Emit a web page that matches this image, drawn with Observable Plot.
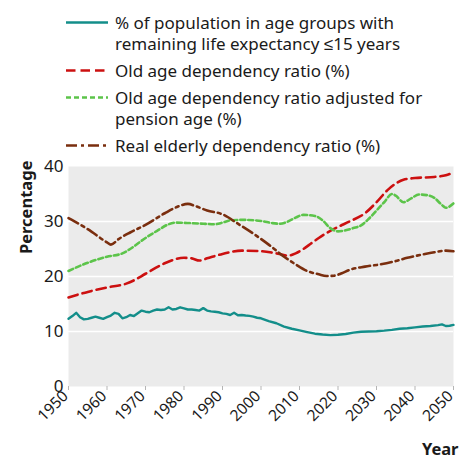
<!DOCTYPE html>
<html>
<head>
<meta charset="utf-8">
<script src="https://cdn.jsdelivr.net/npm/d3@7"></script>
<script src="https://cdn.jsdelivr.net/npm/@observablehq/plot@0.6"></script>
<style>
  html, body { margin: 0; padding: 0; background: #fff; }
  body { width: 459px; height: 458px; overflow: hidden; font-family: "Noto Sans", sans-serif; color: #1a1a1a; }
  #legend { height: 155px; box-sizing: border-box; padding-top: 12px; }
  .item { display: flex; align-items: flex-start; margin-bottom: 6px; }
  .item svg { margin-left: 66px; flex: none; }
  .item .lab { margin-left: 7px; font-size: 17px; line-height: 21px; white-space: nowrap; }
</style>
</head>
<body>
<div id="legend"></div>
<div id="chart"></div>
<script>
// ---- data ----
const seriesNames = [
  "% of population in age groups with<br>remaining life expectancy \u226415 years",
  "Old age dependency ratio (%)",
  "Old age dependency ratio adjusted for<br>pension age (%)",
  "Real elderly dependency ratio (%)"
];
const seriesColors = ["#138e8a", "#cc1010", "#5cc44a", "#7a2e0e"];
const seriesDash = [null, "9.5,5", "5,3", "11,4,3,4"];

const lifeYears = [1950,1951,1952,1953,1954,1955,1956,1957,1958,1959,1960,1961,1962,1963,1964,1965,1966,1967,1968,1969,1970,1971,1972,1973,1974,1975,1976,1977,1978,1979,1980,1981,1982,1983,1984,1985,1986,1987,1988,1989,1990,1991,1992,1993,1994,1995,1996,1997,1998,1999,2000,2002,2004,2006,2008,2010,2012,2014,2016,2018,2020,2022,2024,2026,2028,2030,2032,2034,2036,2038,2040,2042,2044,2046,2047,2048,2049,2050];
const lifeValues = [12.3,12.8,13.4,12.6,12.2,12.3,12.5,12.7,12.5,12.3,12.6,12.9,13.4,13.2,12.4,12.6,13.0,12.8,13.3,13.8,13.6,13.5,13.8,14.0,13.9,14.0,14.4,14.0,14.1,14.4,14.2,14.0,14.0,13.9,13.8,14.25,13.8,13.65,13.6,13.5,13.3,13.2,13.0,13.4,12.95,13.0,12.9,12.85,12.7,12.5,12.4,11.9,11.5,10.9,10.5,10.2,9.9,9.6,9.45,9.35,9.4,9.55,9.8,9.95,10.0,10.05,10.15,10.3,10.5,10.6,10.75,10.9,11.0,11.15,11.3,11.0,11.05,11.2];

const oadrYears = [1950,1955,1960,1965,1967,1970,1975,1980,1982,1984,1986,1990,1995,2000,2004,2007,2009,2011,2013,2015,2017,2020,2023,2027,2030,2033,2035,2037,2040,2045,2048,2050];
const oadrValues = [16.2,17.2,18.0,18.7,19.3,20.5,22.4,23.4,23.3,22.9,23.3,24.1,24.7,24.6,24.2,23.8,24.2,25.0,26.0,27.0,27.9,29.0,30.0,31.5,33.5,35.8,36.9,37.6,37.9,38.1,38.4,38.9];

const adjYears = [1950,1955,1960,1964,1966,1970,1973,1976,1978,1982,1985,1988,1990,1992,1995,2000,2003,2005,2007,2009,2011,2014,2016,2018,2020,2022,2024,2026,2028,2030,2032,2034,2035,2037,2039,2041,2043,2045,2047,2048,2050];
const adjValues = [21.0,22.5,23.6,24.2,25.0,27.0,28.3,29.5,29.8,29.7,29.6,29.5,29.8,30.2,30.3,30.1,29.7,29.6,30.0,30.7,31.2,31.0,30.2,28.8,28.2,28.4,28.8,29.3,30.5,32.0,33.5,35.0,34.7,33.5,34.2,34.9,34.8,34.3,33.0,32.5,33.3];

const realYears = [1950,1955,1960,1961,1963,1966,1970,1975,1978,1981,1983,1986,1990,1994,1998,2002,2006,2009,2012,2015,2017,2019,2021,2023,2027,2031,2035,2038,2042,2045,2048,2050];
const realValues = [30.6,28.6,26.2,25.8,26.8,28.0,29.4,31.5,32.6,33.2,32.8,32.0,31.3,29.6,27.8,25.8,23.6,22.2,21.0,20.4,20.1,20.15,20.6,21.2,21.8,22.2,22.8,23.4,24.0,24.4,24.7,24.6];

const xTicks = [1950,1960,1970,1980,1990,2000,2010,2020,2030,2040,2050];
const yTicks = [0,10,20,30,40];

// ---- legend ----
const legend = document.getElementById("legend");
seriesNames.forEach((name, i) => {
  const item = document.createElement("div");
  item.className = "item";
  const dash = seriesDash[i] ? ` stroke-dasharray="${seriesDash[i]}"` : "";
  item.innerHTML = `<svg width="42" height="21"><line x1="0" x2="42" y1="10.5" y2="10.5" stroke="${seriesColors[i]}" stroke-width="2.6"${dash}/></svg><div class="lab">${name}</div>`;
  legend.appendChild(item);
});

// ---- chart ----
const toRows = (years, values) => years.map((year, j) => ({year, value: values[j]}));
const lifeRows = toRows(lifeYears, lifeValues);
const oadrRows = toRows(oadrYears, oadrValues);
const adjRows = toRows(adjYears, adjValues);
const realRows = toRows(realYears, realValues);

const chart = Plot.plot({
  width: 459,
  height: 303,
  marginTop: 11,
  marginBottom: 72,
  marginLeft: 68,
  marginRight: 6,
  style: {fontFamily: "Noto Sans, sans-serif", fontSize: "17px", color: "#1a1a1a", background: "#fff"},
  x: {domain: [1950, 2050]},
  y: {domain: [0, 40]},
  marks: [
    Plot.frame({fill: "#ebebeb", stroke: null}),
    Plot.gridY([10, 20, 30], {stroke: "#fff", strokeOpacity: 1, strokeWidth: 1.6}),
    Plot.axisY({ticks: yTicks, tickSize: 0, tickPadding: 5, label: null, fontSize: 17}),
    Plot.axisX({ticks: xTicks, text: null, tickSize: 4, stroke: "#b5b5b5", label: null}),
    Plot.axisX({ticks: xTicks, tickFormat: d => String(d), tickRotate: -45, tickSize: 0, tickPadding: 7, dx: -3, fill: "#1a1a1a", label: null, fontSize: 15.5}),
    Plot.line(lifeRows, {x: "year", y: "value", stroke: seriesColors[0], strokeWidth: 2.4, curve: "linear"}),
    Plot.line(oadrRows, {x: "year", y: "value", stroke: seriesColors[1], strokeWidth: 2.6, strokeDasharray: seriesDash[1], curve: "monotone-x"}),
    Plot.line(adjRows, {x: "year", y: "value", stroke: seriesColors[2], strokeWidth: 2.6, strokeDasharray: seriesDash[2], curve: "monotone-x"}),
    Plot.line(realRows, {x: "year", y: "value", stroke: seriesColors[3], strokeWidth: 2.6, strokeDasharray: seriesDash[3], curve: "monotone-x"}),
    Plot.text(["Percentage"], {frameAnchor: "top-left", rotate: -90, textAnchor: "end", dx: -48, dy: -6, fontWeight: "bold", fontSize: 16.5}),
    Plot.text(["Year"], {frameAnchor: "bottom-right", textAnchor: "end", dx: 5, dy: 68, fontWeight: "bold", fontSize: 16.5})
  ]
});
document.getElementById("chart").appendChild(chart);
</script>
</body>
</html>
